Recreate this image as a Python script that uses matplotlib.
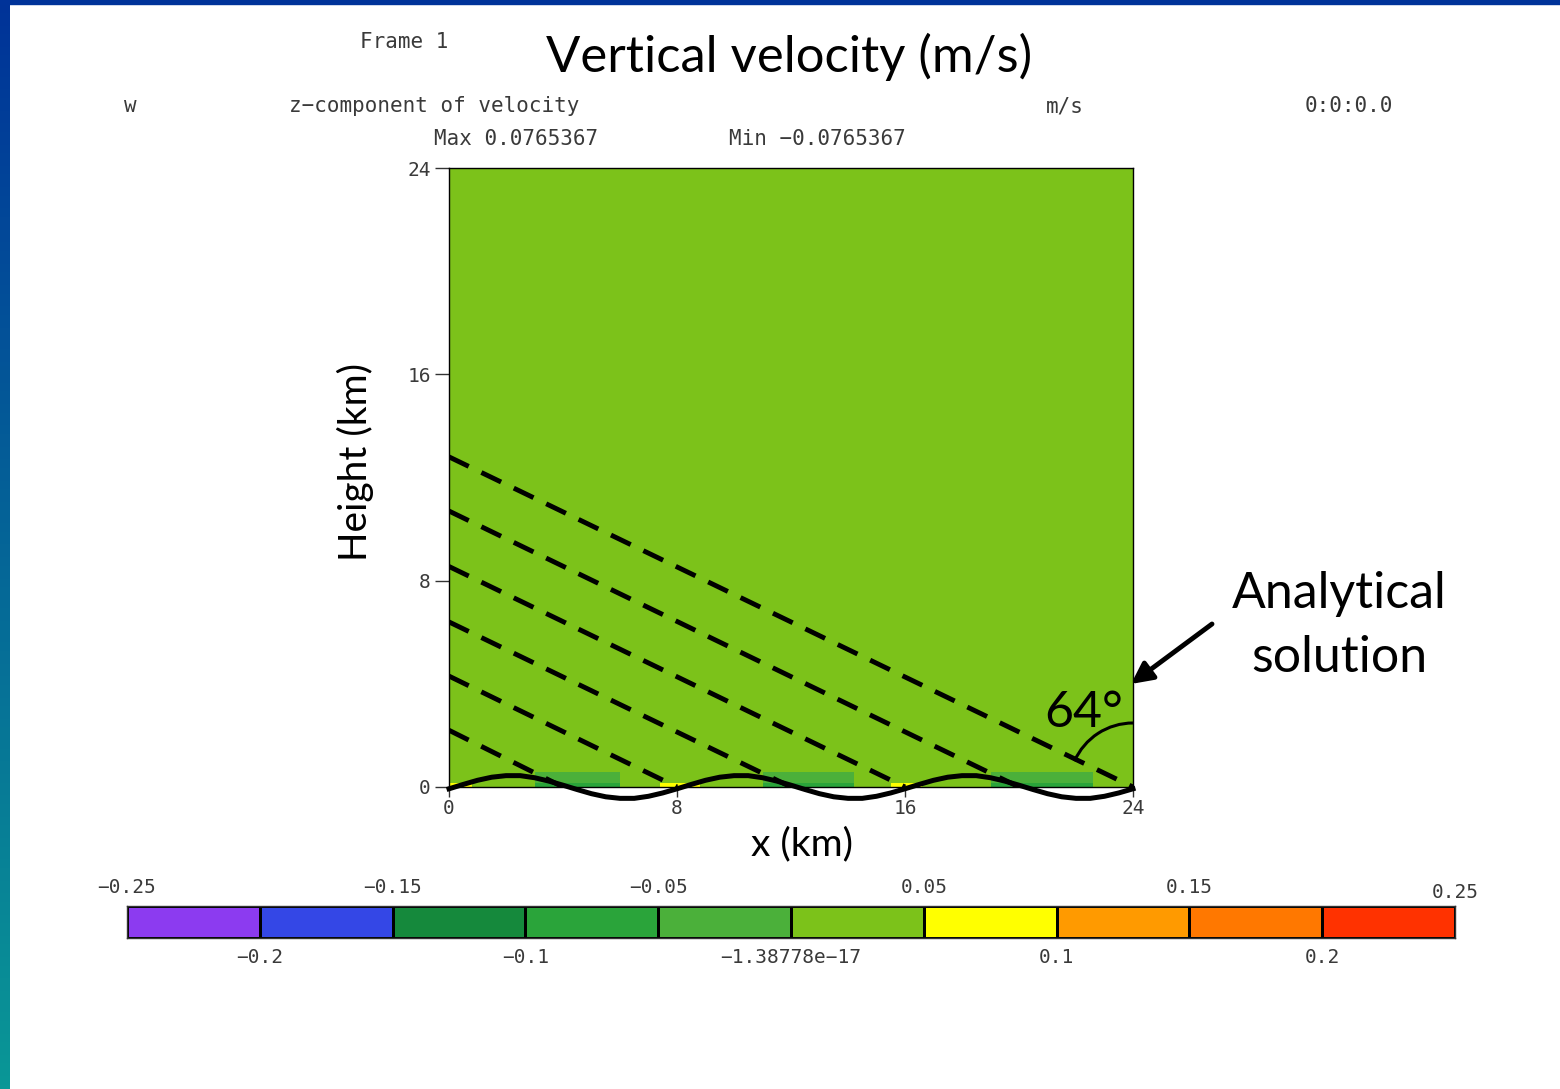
import numpy as np
import matplotlib
matplotlib.use("Agg")
import matplotlib.pyplot as plt
from matplotlib.colors import ListedColormap, BoundaryNorm, LinearSegmentedColormap
from matplotlib.patches import Arc, Rectangle

# ---------------- data ----------------
levels = [-0.25, -0.2, -0.15, -0.1, -0.05, 0.0, 0.05, 0.1, 0.15, 0.2, 0.25]
level_colors = ['#8C3BF0', '#3447E6', '#15893C', '#2AA43A', '#4BB03A',
                '#7CC21A', '#FFFF00', '#FF9A00', '#FF7800', '#FF3200']
cbar_top_labels = ['\u22120.25', '\u22120.15', '\u22120.05', '0.05', '0.15', '0.25']
cbar_bottom_labels = ['\u22120.2', '\u22120.1', '\u22121.38778e\u221217', '0.1', '0.2']

# w field (m/s) on coarse cells: x edges (km), z edges (km)
w_x_edges = [0, 0.8, 3.0, 6.0, 7.4, 8.8, 11.0, 14.2, 15.5, 16.6, 19.0, 22.6, 24]
w_z_edges = [0, 0.15, 0.6, 24]
w_values = [
    [0.06, 0.01, -0.06, 0.01, 0.06, 0.01, -0.06, 0.01, 0.06, 0.01, -0.06, 0.01],
    [0.01, 0.01, -0.03, 0.01, 0.01, 0.01, -0.03, 0.01, 0.01, 0.01, -0.03, 0.01],
    [0.01, 0.01, 0.01, 0.01, 0.01, 0.01, 0.01, 0.01, 0.01, 0.01, 0.01, 0.01],
]

# terrain profile (km)
terrain_x = [0, 0.5, 1, 1.5, 2, 2.5, 3, 3.5, 4, 4.5, 5, 5.5, 6, 6.5, 7, 7.5,
             8, 8.5, 9, 9.5, 10, 10.5, 11, 11.5, 12, 12.5, 13, 13.5, 14, 14.5, 15, 15.5,
             16, 16.5, 17, 17.5, 18, 18.5, 19, 19.5, 20, 20.5, 21, 21.5, 22, 22.5, 23, 23.5, 24]
terrain_h = [-0.07, 0.10, 0.26, 0.38, 0.44, 0.44, 0.36, 0.23, 0.07, -0.10, -0.26, -0.38, -0.44, -0.44, -0.36, -0.23,
             -0.07, 0.10, 0.26, 0.38, 0.44, 0.44, 0.36, 0.23, 0.07, -0.10, -0.26, -0.38, -0.44, -0.44, -0.36, -0.23,
             -0.07, 0.10, 0.26, 0.38, 0.44, 0.44, 0.36, 0.23, 0.07, -0.10, -0.26, -0.38, -0.44, -0.44, -0.36, -0.23,
             -0.07]

# analytical phase lines: height at x=0 (km) and x where they reach the ground (km)
phase_start_z = [12.8, 10.7, 8.55, 6.4, 4.3, 2.2]
phase_end_x = [24, 20, 16, 12, 8, 4]

x_ticks = [0, 8, 16, 24]
y_ticks = [0, 8, 16, 24]

# ---------------- figure ----------------
W, H = 1560, 1089
fig = plt.figure(figsize=(W / 100, H / 100), dpi=100)
fig.patch.set_facecolor('white')

def fx(px):
    return px / W

def fy(py):
    return 1 - py / H

MONO = 'DejaVu Sans Mono'
SANS = 'Lato'
GRAY = '#3a3a3a'

# slide decorations: left gradient bar and top rule
bar_ax = fig.add_axes([0, 0, fx(10), 1])
grad = LinearSegmentedColormap.from_list('g', ['#0a9796', '#003399'])
bar_ax.imshow(np.linspace(0, 1, 256)[::-1].reshape(-1, 1), aspect='auto', cmap=grad,
              extent=[0, 1, 0, 1])
bar_ax.set_axis_off()
fig.patches.append(Rectangle((0, fy(4)), 1, 4 / H, transform=fig.transFigure,
                             color='#003399', zorder=5))

# main axes
ax = fig.add_axes([fx(449), fy(787), fx(1133) - fx(449), fy(168) - fy(787)])
cmap = ListedColormap(level_colors)
norm = BoundaryNorm(levels, cmap.N)
ax.pcolormesh(w_x_edges, w_z_edges, np.array(w_values), cmap=cmap, norm=norm,
              shading='flat', zorder=1)
ax.set_xlim(0, 24)
ax.set_ylim(0, 24)
for s in ax.spines.values():
    s.set_linewidth(1.0)
    s.set_color('black')

ax.set_xticks(x_ticks)
ax.set_yticks(y_ticks)
ax.set_xticklabels([str(v) for v in x_ticks], fontfamily=MONO, fontsize=14, color=GRAY)
ax.set_yticklabels([str(v) for v in y_ticks], fontfamily=MONO, fontsize=14, color=GRAY)
ax.tick_params(axis='y', direction='out', length=10, width=1, pad=3, color='#333333')
ax.tick_params(axis='x', direction='out', length=7, width=1, pad=2, color='#333333')

# phase lines (dashed)
for z0, x1 in zip(phase_start_z, phase_end_x):
    ax.plot([0, x1], [z0, 0], color='black', lw=3.5, linestyle=(0, (4.5, 2.9)),
            solid_capstyle='butt', dash_capstyle='butt', zorder=3)

# terrain
ax.plot(terrain_x, terrain_h, color='black', lw=3.6, clip_on=False, zorder=4,
        solid_joinstyle='round')

# angle arc at lower-right corner
px_per_km_x = 684 / 24
px_per_km_y = 619 / 24
arc = Arc((24, 0), width=2 * 64 / px_per_km_x, height=2 * 64 / px_per_km_y,
          theta1=90, theta2=154, color='black', lw=2.2, zorder=4)
ax.add_patch(arc)

# slide annotations
fig.text(fx(1084), fy(727), '64\u00b0', fontfamily=SANS, fontsize=36, ha='center',
         va='baseline', color='black')
fig.text(fx(1339), fy(608), 'Analytical', fontfamily=SANS, fontsize=36, ha='center',
         va='baseline', color='black')
fig.text(fx(1339), fy(672), 'solution', fontfamily=SANS, fontsize=36, ha='center',
         va='baseline', color='black')
ax.annotate('', xy=(fx(1131), fy(684)), xytext=(fx(1212), fy(624)),
            xycoords='figure fraction', textcoords='figure fraction',
            arrowprops=dict(arrowstyle='-|>', color='black', lw=3.5,
                            mutation_scale=32, shrinkA=0, shrinkB=0))

fig.text(fx(789), fy(72), 'Vertical velocity (m/s)', fontfamily=SANS, fontsize=36.5,
         ha='center', va='baseline', color='black')
fig.text(fx(355), fy(462), 'Height (km)', fontfamily=SANS, fontsize=28, rotation=90,
         ha='center', va='center', color='black')
fig.text(fx(802), fy(855), 'x (km)', fontfamily=SANS, fontsize=28, ha='center',
         va='baseline', color='black')

# NCAR-graphics style header text
fig.text(fx(404), fy(42), 'Frame 1', fontfamily=MONO, fontsize=15, ha='center', va='center', color=GRAY)
fig.text(fx(130), fy(106), 'w', fontfamily=MONO, fontsize=15, ha='center', va='center', color=GRAY)
fig.text(fx(434), fy(106), 'z\u2212component of velocity', fontfamily=MONO, fontsize=15,
         ha='center', va='center', color=GRAY)
fig.text(fx(1065), fy(106), 'm/s', fontfamily=MONO, fontsize=15, ha='center', va='center', color=GRAY)
fig.text(fx(1349), fy(106), '0:0:0.0', fontfamily=MONO, fontsize=15, ha='center', va='center', color=GRAY)
fig.text(fx(516), fy(139), 'Max 0.0765367', fontfamily=MONO, fontsize=15, ha='center', va='center', color=GRAY)
fig.text(fx(817), fy(139), 'Min \u22120.0765367', fontfamily=MONO, fontsize=15, ha='center', va='center', color=GRAY)

# colour bar
cax = fig.add_axes([fx(127), fy(938), fx(1455) - fx(127), fy(906) - fy(938)])
mids = [[(levels[i] + levels[i + 1]) / 2 for i in range(len(levels) - 1)]]
cax.pcolormesh(levels, [0, 1], np.array(mids), cmap=cmap, norm=norm,
               edgecolors='black', linewidth=0.8)
cax.set_xlim(levels[0], levels[-1])
cax.set_ylim(0, 1)
cax.set_xticks([])
cax.set_yticks([])
for s in cax.spines.values():
    s.set_linewidth(1.0)
    s.set_color('#333333')

top_vals = levels[0::2]
bot_vals = levels[1::2]
for i, (v, lab) in enumerate(zip(top_vals, cbar_top_labels)):
    yy = 1.59 if i < len(top_vals) - 1 else 1.41
    cax.text(v, yy, lab, fontfamily=MONO, fontsize=14, ha='center', va='center',
             color=GRAY, transform=cax.get_xaxis_transform(), clip_on=False)
for v, lab in zip(bot_vals, cbar_bottom_labels):
    cax.text(v, -0.6, lab, fontfamily=MONO, fontsize=14, ha='center', va='center',
             color=GRAY, transform=cax.get_xaxis_transform(), clip_on=False)

fig.savefig('out.png', dpi=100)
